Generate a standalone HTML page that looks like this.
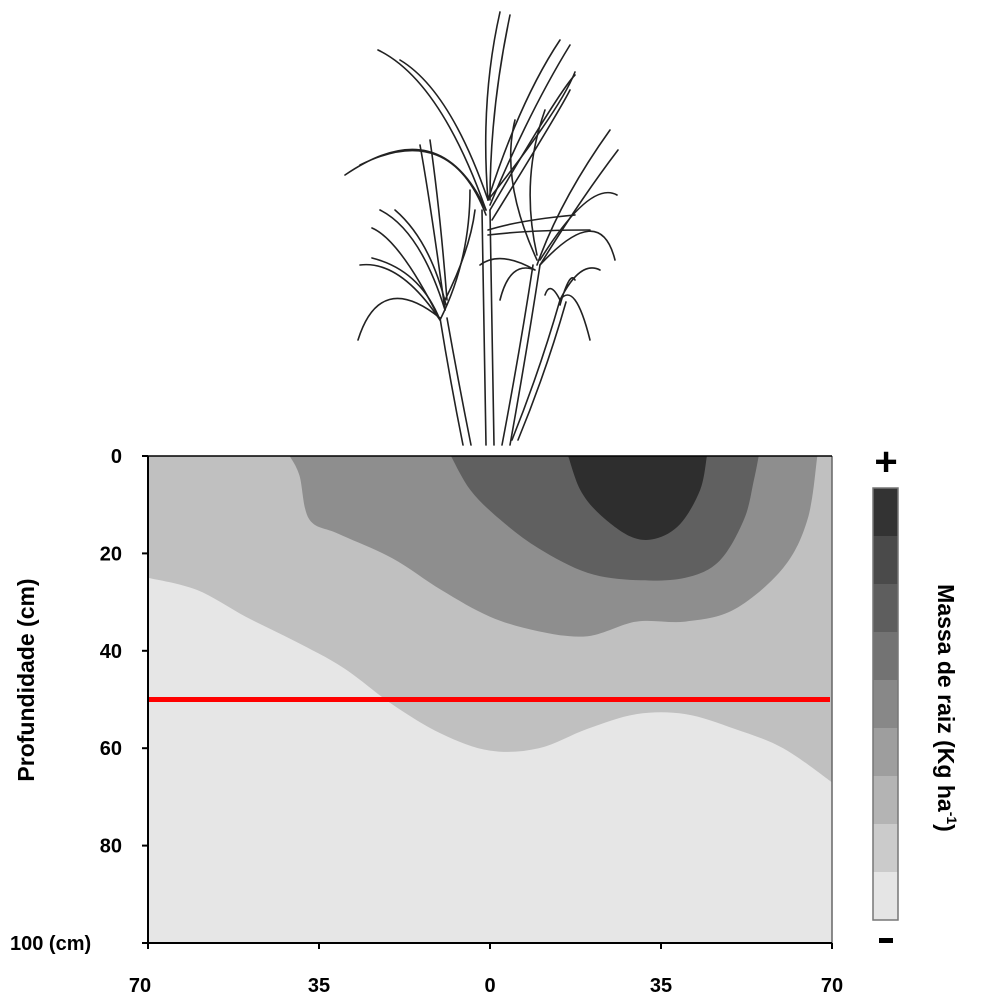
<!DOCTYPE html>
<html><head><meta charset="utf-8"><style>
html,body{margin:0;padding:0;background:#fff;}
svg{display:block;font-family:"Liberation Sans",sans-serif;}
</style></head><body>
<svg id="chart" width="995" height="1000" viewBox="0 0 995 1000">
<g id="plant" fill="none" stroke="#222" stroke-width="1.6" stroke-linecap="round">
 <path d="M463 445 Q450 380 440 318 M471 445 Q458 380 447 318" />
 <path d="M486 445 Q484 330 482 210 M494 445 Q492 330 490 210" />
 <path d="M502 445 Q520 350 533 265 M510 445 Q527 350 540 265" />
 <path d="M512 440 Q540 370 560 300 M518 440 Q546 372 566 302" />
 <path d="M440 320 Q400 260 360 265 M440 320 Q420 270 372 258" />
 <path d="M445 310 Q420 230 380 210 M446 305 Q430 240 395 210" />
 <path d="M445 310 Q430 200 420 145 M447 300 Q440 210 430 140" />
 <path d="M445 300 Q470 250 475 210" />
 <path d="M486 210 Q440 110 345 175 M486 215 Q450 120 360 165" />
 <path d="M486 210 Q440 80 378 50 M488 200 Q450 90 400 60" />
 <path d="M488 200 Q480 100 500 12 M490 200 Q490 110 510 15" />
 <path d="M488 200 Q520 100 560 40 M490 205 Q530 110 570 45" />
 <path d="M490 210 Q560 90 575 75 M492 220 Q560 110 570 90" />
 <path d="M488 200 Q560 110 575 72" />
 <path d="M488 230 Q520 220 575 215 M488 235 Q530 230 590 230" />
 <path d="M537 265 Q560 200 610 130 M540 265 Q580 200 618 150" />
 <path d="M537 260 Q500 180 515 120 M537 255 Q520 180 545 110" />
 <path d="M540 260 Q590 180 617 195 M540 265 Q600 200 615 260" />
 <path d="M535 270 Q500 250 480 265 M535 270 Q510 260 500 300" />
 <path d="M560 300 Q580 260 600 270 M560 300 Q575 280 590 340 M560 300 Q550 280 545 295 M560 305 Q570 270 575 280" />
 <path d="M440 320 Q470 260 470 190 M440 320 Q400 240 372 228" />
 <path d="M440 318 Q380 270 358 340" />
</g>
<g id="plot"></g>
<g id="axes"></g>
<g id="cbar"></g>
<text x="886" y="475" text-anchor="middle" font-size="40" font-weight="bold">+</text>
<rect x="879" y="938" width="14" height="5" fill="#000"/>
<text transform="translate(938,708) rotate(90)" text-anchor="middle" font-size="23" font-weight="bold">Massa de raiz (Kg ha<tspan font-size="14" dy="-9">-1</tspan><tspan dy="9">)</tspan></text>
<text transform="translate(34,680) rotate(-90)" text-anchor="middle" font-size="23" font-weight="bold">Profundidade (cm)</text>
</svg>
<script>
const xTickLabels=["70","35","0","35","70"];
const xTickValues=[-70,-35,0,35,70];
const yTickValues=[0,20,40,60,80,100];
const yTickLabels=["0","20","40","60","80","100 (cm)"];
const levelColors=["#e6e6e6","#c0c0c0","#8e8e8e","#606060","#2e2e2e"];
const contour1=[[-70,25],[-60,27.5],[-50,33],[-40,38],[-30,43.5],[-20,51],[-10,57],[0,60.5],[10,60],[20,56],[30,53],[40,53],[50,56],[60,60],[70,67]];
const contour2=[[-41,0],[-39,4],[-37,13],[-31,16],[-20,21],[-10,27.5],[0,33],[10,36],[20,37],[30,34],[40,34],[50,31.5],[60,23],[65,13],[67,0]];
const contour3=[[-8,0],[-4,7],[2,13],[10,19],[20,24],[30,25.5],[40,25],[47,21.5],[52,13],[54,5],[55,0]];
const contour4=[[16,0],[18.5,7],[22.5,12],[28.7,16.5],[33.8,17],[38.9,14],[43,7],[44.4,0]];
const referenceDepth=50;
const colorbarColors=["#333333","#4a4a4a","#5e5e5e","#737373","#888888","#9e9e9e","#b4b4b4","#cbcbcb","#e5e5e5"];

const X0=148,X1=832,Y0=456,Y1=943;
const sx=v=>X0+(v+70)/140*(X1-X0);
const sy=d=>Y0+d/100*(Y1-Y0);
const NS="http://www.w3.org/2000/svg";
function mk(t,a,p){const e=document.createElementNS(NS,t);for(const k in a)e.setAttribute(k,a[k]);p.appendChild(e);return e;}
function smooth(pts){
 let d="";const P=pts.map(p=>[sx(p[0]),sy(p[1])]);
 d+="M"+P[0][0]+" "+P[0][1];
 for(let i=0;i<P.length-1;i++){
  const p0=P[Math.max(0,i-1)],p1=P[i],p2=P[i+1],p3=P[Math.min(P.length-1,i+2)];
  const c1=[p1[0]+(p2[0]-p0[0])/6,p1[1]+(p2[1]-p0[1])/6];
  const c2=[p2[0]-(p3[0]-p1[0])/6,p2[1]-(p3[1]-p1[1])/6];
  d+=` C${c1[0]} ${c1[1]} ${c2[0]} ${c2[1]} ${p2[0]} ${p2[1]}`;
 }
 return d;
}
const plot=document.getElementById('plot');
const bg=mk('rect',{x:X0,y:Y0,width:X1-X0,height:Y1-Y0,fill:levelColors[0]},plot);


const b1=mk('path',{d:smooth(contour1)+` L${X1} ${Y0} L${X0} ${Y0} Z`,fill:levelColors[1]},plot);


[contour2,contour3,contour4].forEach((c,i)=>{
 const p=mk('path',{d:smooth(c)+" Z",fill:levelColors[i+2]},plot);
 
 
});
const rl=mk('line',{x1:X0,x2:X1-2,y1:sy(referenceDepth),y2:sy(referenceDepth),stroke:"#ff0000","stroke-width":5},plot);



const ax=document.getElementById('axes');
const la=mk('line',{x1:X0,x2:X0,y1:Y0,y2:Y1,stroke:"#000","stroke-width":2},ax);


const ra=mk('line',{x1:X1,x2:X1,y1:Y0,y2:Y1,stroke:"#666","stroke-width":1.5},ax);


const ba=mk('line',{x1:X0-1,x2:X1,y1:Y1,y2:Y1,stroke:"#000","stroke-width":2},ax);


const ta=mk('line',{x1:X0,x2:X1,y1:Y0,y2:Y0,stroke:"#000","stroke-width":1.5},ax);


yTickValues.forEach((v,i)=>{
 const t=mk('line',{x1:X0-6,x2:X0,y1:sy(v),y2:sy(v),stroke:"#000","stroke-width":2},ax);
 
 
 const last=i===yTickValues.length-1;
 const tx=mk('text',{x:last?10:122,y:sy(v)+7,"text-anchor":last?"start":"end","font-size":20,"font-weight":"bold"},ax);
 tx.textContent=yTickLabels[i];
 
 
});
xTickValues.forEach((v,i)=>{
 const t=mk('line',{x1:sx(v),x2:sx(v),y1:Y1,y2:Y1+6,stroke:"#000","stroke-width":2},ax);
 
 
 const tx=mk('text',{x:sx(v)+(i===0?-8:0),y:992,"text-anchor":"middle","font-size":20,"font-weight":"bold"},ax);
 tx.textContent=xTickLabels[i];
 
 
});
const cb=document.getElementById('cbar');
const CT=488,CB=920,h=(CB-CT)/colorbarColors.length;
colorbarColors.forEach((c,i)=>{
 const r=mk('rect',{x:873,y:CT+i*h,width:25,height:h+0.5,fill:c},cb);
 
 
});
const fr=mk('rect',{x:873,y:CT,width:25,height:CB-CT,fill:"none",stroke:"#777","stroke-width":1.5},cb);


</script>
</body></html>
